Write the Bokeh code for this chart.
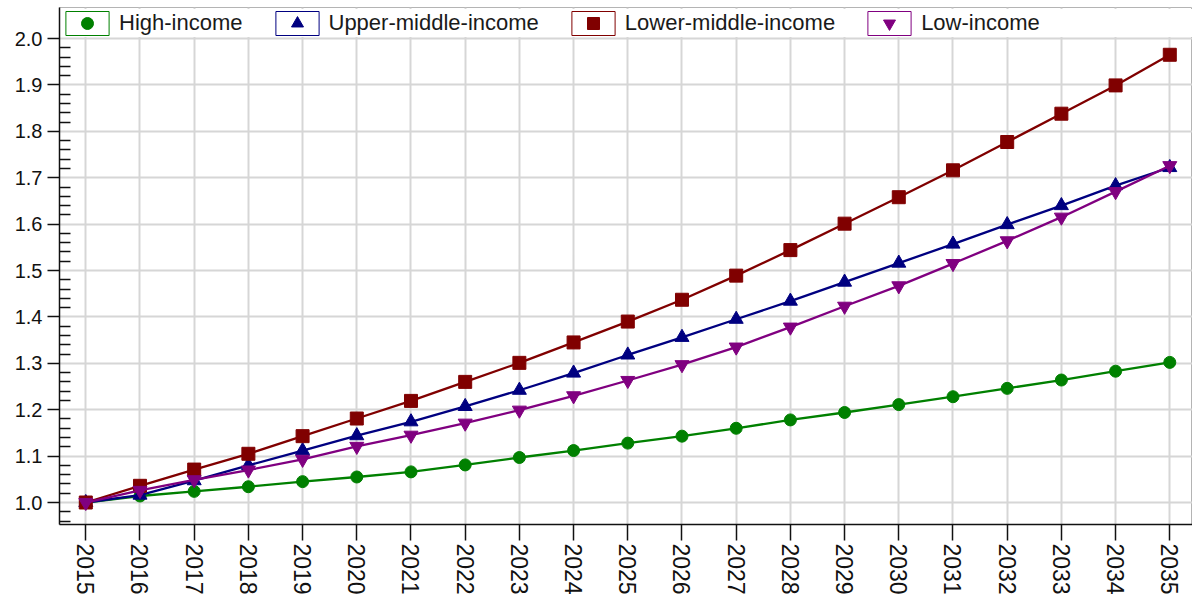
import math
import numpy as np
from bokeh.plotting import figure
from bokeh.models import (FixedTicker, Legend, LegendItem, BoxAnnotation,
                          NumeralTickFormatter, ColumnDataSource)
from bokeh.embed import file_html
from bokeh.resources import INLINE

# ---- data ----
years = list(range(2015, 2036))
high_income = [1.000, 1.014, 1.024, 1.034, 1.045, 1.055, 1.066, 1.081, 1.097, 1.112, 1.128,
               1.143, 1.160, 1.178, 1.194, 1.211, 1.228, 1.246, 1.264, 1.283, 1.302]
upper_middle = [1.000, 1.016, 1.047, 1.080, 1.112, 1.144, 1.174, 1.207, 1.242, 1.279, 1.318,
                1.356, 1.395, 1.434, 1.475, 1.516, 1.557, 1.599, 1.640, 1.683, 1.722]
lower_middle = [1.000, 1.036, 1.071, 1.105, 1.143, 1.181, 1.219, 1.260, 1.301, 1.345, 1.390,
                1.437, 1.489, 1.544, 1.601, 1.658, 1.716, 1.777, 1.838, 1.899, 1.965]
low_income = [1.000, 1.026, 1.049, 1.070, 1.093, 1.121, 1.145, 1.171, 1.199, 1.230, 1.263,
              1.297, 1.335, 1.378, 1.423, 1.467, 1.515, 1.564, 1.615, 1.670, 1.726]

series_names = ["High-income", "Upper-middle-income", "Lower-middle-income", "Low-income"]
series_values = [high_income, upper_middle, lower_middle, low_income]
y_major_ticks = [1.0, 1.1, 1.2, 1.3, 1.4, 1.5, 1.6, 1.7, 1.8, 1.9, 2.0]

# ---- styles ----
colors = ["#008000", "#000080", "#800000", "#800080"]
markers = ["circle", "triangle", "square", "inverted_triangle"]
marker_sizes = [12, 14, 13, 14]
FONT = "Liberation Sans"
Y_START, Y_END = 0.9526, 2.0669
X_START, X_END = 2014.515, 2035.419

y_minor_ticks = [round(v, 2) for v in np.arange(0.96, 2.0, 0.02)
                 if abs(round(v * 10) - v * 10) > 1e-6]

p = figure(width=1192, height=597, output_backend="svg", toolbar_location=None,
           x_range=(X_START, X_END), y_range=(Y_START, Y_END),
           min_border_left=59, min_border_right=0, min_border_top=7, min_border_bottom=0)
p.background_fill_color = "white"
p.border_fill_color = "white"
p.outline_line_color = "#b4b4b4"
p.outline_line_width = 1

# white band behind legend (hides grid above top tick)
band = BoxAnnotation(bottom=2.0035, top=Y_END - 0.003, fill_color="white", fill_alpha=1.0,
                     line_alpha=0, level="underlay")
p.add_layout(band)

# axes
p.xaxis.ticker = FixedTicker(ticks=years)
p.xaxis.major_label_orientation = -math.pi / 2
p.xaxis.major_label_text_font = FONT
p.xaxis.major_label_text_font_size = "23px"
p.xaxis.major_label_text_color = "#111111"
p.xaxis.major_tick_out = 16
p.xaxis.major_tick_in = 0
p.xaxis.minor_tick_out = 0
p.xaxis.minor_tick_in = 0
p.xaxis.major_label_standoff = 3

p.yaxis.ticker = FixedTicker(ticks=y_major_ticks, minor_ticks=y_minor_ticks)
p.yaxis.formatter = NumeralTickFormatter(format="0.0")
p.yaxis.major_label_text_font = FONT
p.yaxis.major_label_text_font_size = "20px"
p.yaxis.major_label_text_color = "#111111"
p.yaxis.major_tick_out = 12
p.yaxis.major_tick_in = 0
p.yaxis.minor_tick_out = 0
p.yaxis.minor_tick_in = 11
p.yaxis.major_label_standoff = 5

for ax in (p.xaxis, p.yaxis):
    ax.axis_line_color = "#111111"
    ax.axis_line_width = 1.5
    ax.major_tick_line_color = "#111111"
    ax.major_tick_line_width = 1.5
    ax.minor_tick_line_color = "#111111"
    ax.minor_tick_line_width = 1.5

p.xgrid.ticker = FixedTicker(ticks=years)
p.ygrid.ticker = FixedTicker(ticks=y_major_ticks)
p.xgrid.grid_line_color = "#d6d6d6"
p.ygrid.grid_line_color = "#d6d6d6"
p.xgrid.grid_line_width = 2
p.ygrid.grid_line_width = 2

items = []
for name, vals, col, mk, sz in zip(series_names, series_values, colors, markers, marker_sizes):
    src = ColumnDataSource(dict(x=years, y=vals))
    p.line("x", "y", source=src, line_color=col, line_width=2.3)
    box = p.quad(left=years[:1], right=years[:1], bottom=vals[:1], top=vals[:1],
                 fill_color="white", line_color=col, line_width=1)
    sc = p.scatter("x", "y", source=src, marker=mk, size=sz, fill_color=col, line_color=col)
    items.append(LegendItem(label=name, renderers=[box, sc]))

legend = Legend(items=items, orientation="horizontal", location="top_left",
                glyph_width=54, glyph_height=30, label_standoff=5, spacing=27,
                padding=0, margin=1, background_fill_alpha=0, border_line_alpha=0,
                label_text_font=FONT, label_text_font_size="22px",
                label_text_color="#1a1a1a")
p.add_layout(legend)

open("out.html", "w").write(file_html(p, INLINE))
